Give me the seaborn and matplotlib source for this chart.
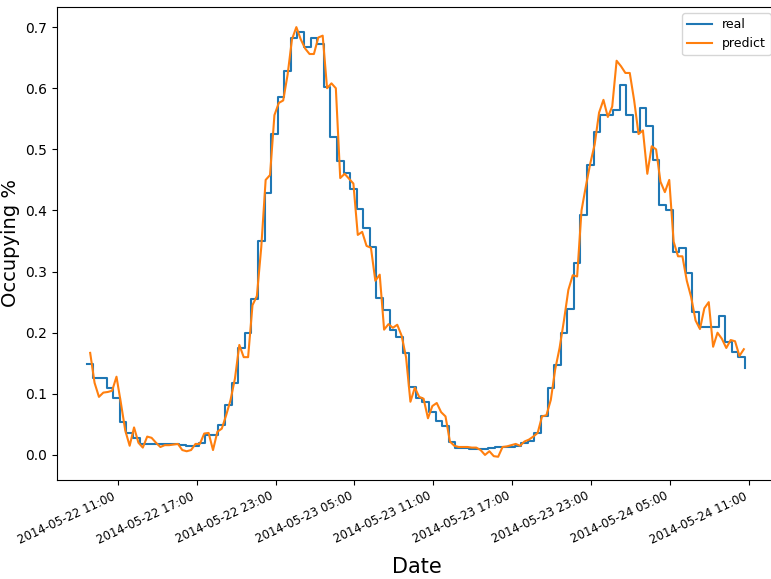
import numpy as np
import pandas as pd
import seaborn as sns
import matplotlib
matplotlib.use("Agg")
import matplotlib.pyplot as plt
import matplotlib.dates as mdates

# real occupancy, one value per half hour (held until the next value)
real_start = "2014-05-22 08:40"
real_values = [
    0.149, 0.126, 0.126, 0.109, 0.093, 0.054, 0.036, 0.028, 0.018, 0.018,
    0.018, 0.018, 0.018, 0.018, 0.017, 0.015, 0.015, 0.020, 0.033, 0.033,
    0.049, 0.082, 0.118, 0.175, 0.200, 0.255, 0.350, 0.428, 0.525, 0.586,
    0.628, 0.682, 0.692, 0.668, 0.682, 0.672, 0.602, 0.520, 0.481, 0.461,
    0.435, 0.402, 0.371, 0.340, 0.257, 0.237, 0.204, 0.193, 0.167, 0.111,
    0.093, 0.087, 0.070, 0.056, 0.047, 0.021, 0.011, 0.011, 0.009, 0.009,
    0.010, 0.011, 0.013, 0.013, 0.013, 0.015, 0.020, 0.022, 0.036, 0.063,
    0.110, 0.147, 0.200, 0.238, 0.314, 0.392, 0.475, 0.529, 0.556, 0.556,
    0.564, 0.605, 0.556, 0.529, 0.567, 0.538, 0.483, 0.409, 0.400, 0.332,
    0.338, 0.297, 0.234, 0.210, 0.210, 0.210, 0.227, 0.185, 0.169, 0.161,
    0.142,
]

# model prediction, every 20 minutes
pred_start = "2014-05-22 08:55"
pred_values = [
    0.167, 0.118, 0.095, 0.102, 0.103, 0.105, 0.128, 0.085, 0.040, 0.015,
    0.045, 0.020, 0.012, 0.030, 0.028, 0.020, 0.013, 0.016, 0.016, 0.017,
    0.018, 0.008, 0.006, 0.008, 0.018, 0.018, 0.035, 0.036, 0.008, 0.038,
    0.043, 0.065, 0.090, 0.125, 0.180, 0.160, 0.160, 0.245, 0.260, 0.340,
    0.450, 0.458, 0.556, 0.576, 0.580, 0.622, 0.680, 0.700, 0.680, 0.665,
    0.656, 0.656, 0.683, 0.686, 0.600, 0.608, 0.600, 0.453, 0.460, 0.452,
    0.444, 0.360, 0.365, 0.342, 0.339, 0.285, 0.295, 0.205, 0.214, 0.208,
    0.213, 0.195, 0.160, 0.087, 0.110, 0.095, 0.092, 0.060, 0.080, 0.085,
    0.070, 0.063, 0.022, 0.015, 0.013, 0.013, 0.013, 0.012, 0.012, 0.008,
    0.000, 0.006, -0.002, -0.003, 0.013, 0.014, 0.016, 0.018, 0.015, 0.022,
    0.025, 0.030, 0.036, 0.063, 0.065, 0.090, 0.140, 0.175, 0.220, 0.270,
    0.294, 0.292, 0.400, 0.440, 0.477, 0.508, 0.560, 0.581, 0.553, 0.570,
    0.645, 0.636, 0.625, 0.625, 0.580, 0.525, 0.531, 0.460, 0.505, 0.500,
    0.447, 0.430, 0.450, 0.349, 0.325, 0.325, 0.285, 0.258, 0.220, 0.206,
    0.240, 0.250, 0.177, 0.200, 0.190, 0.175, 0.188, 0.186, 0.162, 0.173,
]

real_times = pd.date_range(real_start, periods=len(real_values), freq="30min")
pred_times = pd.date_range(pred_start, periods=len(pred_values), freq="20min")

fig, ax = plt.subplots(figsize=(7.71, 5.79), dpi=100)

sns.lineplot(x=real_times, y=real_values, ax=ax, label="real",
             color="#1f77b4", linewidth=1.5, drawstyle="steps-post")
sns.lineplot(x=pred_times, y=pred_values, ax=ax, label="predict",
             color="#ff7f0e", linewidth=1.5)

ax.xaxis.set_major_locator(mdates.HourLocator(byhour=[5, 11, 17, 23]))
ax.xaxis.set_major_formatter(mdates.DateFormatter("%Y-%m-%d %H:%M"))
ax.set_xlim(pd.Timestamp("2014-05-22 06:24"), pd.Timestamp("2014-05-24 13:07"))
ax.set_ylim(-0.041, 0.733)

ax.set_xlabel("Date", fontsize=15, labelpad=8)
ax.set_ylabel("Occupying %", fontsize=14)
ax.tick_params(axis="y", labelsize=10)
ax.tick_params(axis="x", labelsize=8.5)
plt.setp(ax.get_xticklabels(), rotation=25, ha="right")
ax.legend(loc="upper right", fontsize=9)

fig.subplots_adjust(left=0.074, right=1.008, top=0.988, bottom=0.171)
fig.savefig("out.png")
